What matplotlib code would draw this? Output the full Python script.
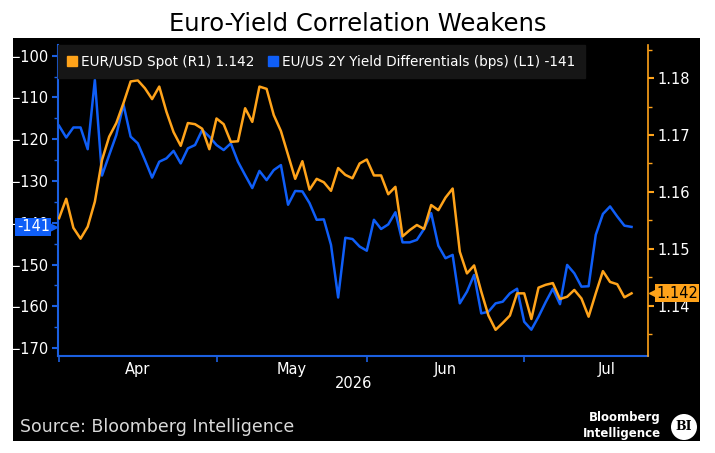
import matplotlib
matplotlib.use("Agg")
import matplotlib.pyplot as plt
import matplotlib.transforms as mtransforms
from matplotlib.lines import Line2D
from matplotlib.patches import Rectangle, Ellipse
from matplotlib.ticker import MultipleLocator, FixedLocator, FixedFormatter, NullFormatter, StrMethodFormatter
import pandas as pd

title = "Euro-Yield Correlation Weakens"
source = "Source: Bloomberg Intelligence"

# business-day axis, Apr 1 2026 onward
dates = pd.bdate_range("2026-04-01", periods=81)
calendar = pd.bdate_range("2026-04-01", "2026-07-31")
month_names = ["Apr", "May", "Jun", "Jul"]
year_label = "2026"

eurusd = [
    1.1554, 1.1588, 1.1537, 1.1518, 1.1539, 1.1583, 1.1656, 1.1697, 1.1721, 1.1756,
    1.1794, 1.1796, 1.1782, 1.1763, 1.1785, 1.1741, 1.1705, 1.1681, 1.1721, 1.1719,
    1.1711, 1.1675, 1.1729, 1.1719, 1.1688, 1.1689, 1.1747, 1.1723, 1.1785, 1.1781,
    1.1735, 1.1707, 1.1665, 1.1623, 1.1654, 1.1604, 1.1623, 1.1617, 1.1602, 1.1642,
    1.1630, 1.1624, 1.1650, 1.1657, 1.1629, 1.1629, 1.1596, 1.1609, 1.1522, 1.1533,
    1.1542, 1.1535, 1.1577, 1.1568, 1.1590, 1.1606, 1.1495, 1.1457, 1.1471, 1.1425,
    1.1383, 1.1358, 1.1370, 1.1383, 1.1422, 1.1422, 1.1377, 1.1432, 1.1437, 1.1440,
    1.1412, 1.1416, 1.1428, 1.1413, 1.1381, 1.1422, 1.1461, 1.1442, 1.1438, 1.1415,
    1.1422,
]
yield_diff = [
    -116.8, -119.6, -117.2, -117.2, -122.4, -105.8, -128.7, -123.8, -119.0, -111.7,
    -119.4, -121.0, -125.0, -129.2, -125.4, -124.6, -122.8, -125.8, -122.2, -121.4,
    -117.8, -119.4, -121.4, -122.6, -121.0, -125.4, -128.6, -131.7, -127.6, -129.8,
    -127.4, -126.2, -135.7, -132.4, -132.5, -135.3, -139.3, -139.2, -145.3, -157.9,
    -143.6, -143.9, -145.7, -146.7, -139.3, -141.5, -140.4, -137.5, -144.7, -144.7,
    -144.1, -141.5, -137.7, -145.5, -148.5, -147.7, -159.3, -156.5, -152.5, -161.7,
    -161.3, -159.3, -158.9, -156.9, -155.8, -163.7, -165.6, -162.5, -159.0, -155.8,
    -159.5, -150.1, -152.1, -155.3, -155.2, -142.9, -137.9, -136.1, -138.5, -140.7,
    -141.0,
]
eurusd_label = "EUR/USD Spot (R1) 1.142"
spread_label = "EU/US 2Y Yield Differentials (bps) (L1) -141"
eurusd_last = "1.142"
spread_last = "-141"

ORANGE = "#ffa31a"
BLUE = "#0f5ef7"
AXIS_BLUE = "#1b5fe0"

x = list(range(len(dates)))
starts = [i for i in range(len(calendar)) if i == 0 or calendar[i].month != calendar[i - 1].month]
ends = starts[1:] + [len(calendar)]
mids = [(s + e) / 2 for s, e in zip(starts, ends)]

fig = plt.figure(figsize=(7.15, 4.53), dpi=100, facecolor="white")
W, H = 715, 453
fig.patches.append(Rectangle((13 / W, 1 - 441 / H), 687 / W, 403 / H,
                             transform=fig.transFigure, facecolor="black", zorder=-5))

ax = fig.add_axes([58 / W, 1 - 356 / H, 590 / W, 311 / H])
ax.set_facecolor("black")
ax2 = ax.twinx()

ax.plot(x, yield_diff, color=BLUE, lw=1.8)
ax2.plot(x, eurusd, color=ORANGE, lw=1.8)

# x axis: ticks at month starts, labels in the middle of each month
ax.set_xlim(-0.15, 82.3)
ax.xaxis.set_major_locator(FixedLocator(starts))
ax.xaxis.set_major_formatter(NullFormatter())
ax.xaxis.set_minor_locator(FixedLocator(mids))
ax.xaxis.set_minor_formatter(FixedFormatter(month_names))
ax.tick_params(axis="x", which="major", length=4, width=1.2, color=AXIS_BLUE)
ax.tick_params(axis="x", which="minor", length=0, labelcolor="white", labelsize=10.5, pad=4)
fig.text(354 / W, 1 - 383 / H, year_label, ha="center", va="center", color="white", fontsize=10.5)

ax.set_ylim(-171.9, -97.46)
ax.yaxis.set_major_locator(MultipleLocator(10))
ax.yaxis.set_minor_locator(MultipleLocator(5))
ax.tick_params(axis="y", which="major", length=4, width=1.5, color=AXIS_BLUE,
               labelcolor="white", labelsize=10.5, pad=3)
ax.tick_params(axis="y", which="minor", length=3, width=1, color=AXIS_BLUE)

ax2.set_ylim(1.1312, 1.1858)
ax2.yaxis.set_major_locator(MultipleLocator(0.01))
ax2.yaxis.set_minor_locator(MultipleLocator(0.005))
ax2.yaxis.set_major_formatter(StrMethodFormatter("{x:.2f}"))
ax2.tick_params(axis="y", which="major", length=4, width=1.5, color=ORANGE,
                labelcolor="white", labelsize=10.5, pad=3)
ax2.tick_params(axis="y", which="minor", length=3, width=1, color=ORANGE)

for s in ["top", "right"]:
    ax.spines[s].set_visible(False)
for s in ["left", "bottom"]:
    ax.spines[s].set_color(AXIS_BLUE)
    ax.spines[s].set_linewidth(1.5)
for s in ["top", "left", "bottom"]:
    ax2.spines[s].set_visible(False)
ax2.spines["right"].set_color(ORANGE)
ax2.spines["right"].set_linewidth(1.2)

handles = [Line2D([], [], marker="s", ls="none", color=ORANGE, markersize=7),
           Line2D([], [], marker="s", ls="none", color=BLUE, markersize=7)]
leg = ax2.legend(handles, [eurusd_label, spread_label], loc="upper left", bbox_to_anchor=(0, 1),
                 ncol=2, frameon=True, fancybox=False, facecolor="#161616", edgecolor="#161616",
                 framealpha=1, fontsize=9.8, labelcolor="white", handlelength=0.7,
                 handletextpad=0.3, columnspacing=1.0, borderaxespad=0, borderpad=0.7)

# last-value tags on both axes (they sit over the -140 / 1.14 tick labels, as in Bloomberg)
tl = mtransforms.blended_transform_factory(ax.transAxes, ax.transData)
ax.text(0, yield_diff[-1], spread_last, transform=mtransforms.offset_copy(tl, fig=fig, x=-8, units="dots"),
        ha="right", va="center", color="white", fontsize=10.5, clip_on=False, zorder=10,
        bbox=dict(boxstyle="square,pad=0.1", fc=BLUE, ec="none"))
ax.plot([0], [yield_diff[-1]], marker=">", ms=6, color=BLUE, clip_on=False, zorder=10,
        transform=mtransforms.offset_copy(tl, fig=fig, x=-5, units="dots"))

tr = mtransforms.blended_transform_factory(ax2.transAxes, ax2.transData)
ax2.text(1, eurusd[-1], eurusd_last, transform=mtransforms.offset_copy(tr, fig=fig, x=8, units="dots"),
         ha="left", va="center", color="black", fontsize=10.5, clip_on=False, zorder=10,
         bbox=dict(boxstyle="square,pad=0.1", fc=ORANGE, ec="none"))
ax2.plot([1], [eurusd[-1]], marker="<", ms=6, color=ORANGE, clip_on=False, zorder=10,
         transform=mtransforms.offset_copy(tr, fig=fig, x=5, units="dots"))

fig.text(358 / W, 1 - 24 / H, title, ha="center", va="center", fontsize=17.5, color="black")
fig.text(20 / W, 1 - 427 / H, source, ha="left", va="center", fontsize=12.5, color="#d9d9d9")

fig.text(661 / W, 1 - 418 / H, "Bloomberg", ha="right", va="center", fontsize=8.5,
         fontweight="bold", color="white")
fig.text(661 / W, 1 - 434 / H, "Intelligence", ha="right", va="center", fontsize=8.5,
         fontweight="bold", color="white")
fig.patches.append(Ellipse((684 / W, 1 - 427 / H), 26 / W, 26 / H, transform=fig.transFigure,
                           facecolor="white", zorder=1))
fig.text(684 / W, 1 - 427 / H, "BI", ha="center", va="center", fontsize=9, fontweight="bold",
         family="DejaVu Serif", color="black", zorder=2)

fig.savefig("out.png", dpi=100, facecolor="white")
